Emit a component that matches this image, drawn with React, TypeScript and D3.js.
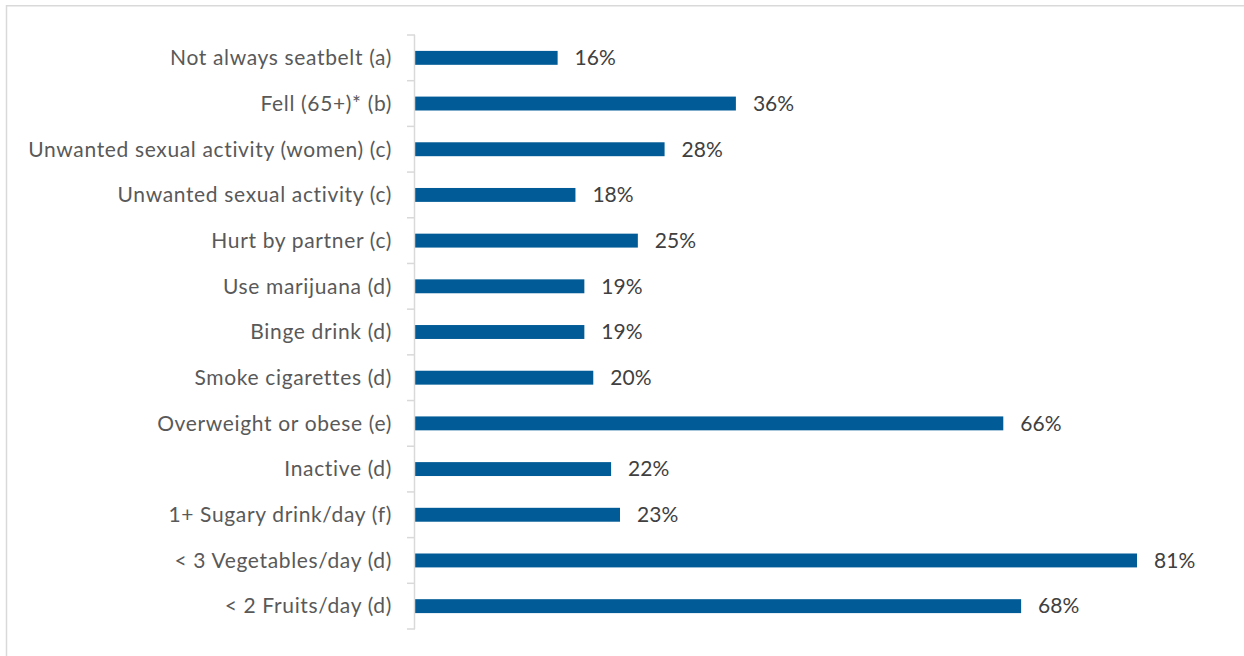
import React from "react";
import * as d3 from "d3";

const categories = [
  "Not always seatbelt (a)",
  "Fell (65+)* (b)",
  "Unwanted sexual activity (women) (c)",
  "Unwanted sexual activity (c)",
  "Hurt by partner (c)",
  "Use marijuana (d)",
  "Binge drink (d)",
  "Smoke cigarettes (d)",
  "Overweight or obese (e)",
  "Inactive (d)",
  "1+ Sugary drink/day (f)",
  "< 3 Vegetables/day (d)",
  "< 2 Fruits/day (d)",
];
const values = [16, 36, 28, 18, 25, 19, 19, 20, 66, 22, 23, 81, 68];

const W = 1244;
const H = 656;
const left = 415;
const top = 35;
const bottom = 629;
const FONT = "Lato, sans-serif";

export default function App() {
  const x = d3.scaleLinear().domain([0, 81]).range([left, 1137]);
  const y = d3.scaleBand().domain(categories).range([top, bottom]).paddingInner(0.6955).paddingOuter(0.348);
  const ticks = d3.range(categories.length + 1).map((i) => top + (i * (bottom - top)) / categories.length);
  return (
    <svg width={W} height={H} style={{ position: "absolute", left: 0, top: 0 }}>
      <rect x={0} y={0} width={W} height={H} fill="#fff" />
      <path d={`M6.5,${H + 2} V5.75 H${W + 2}`} fill="none" stroke="#d9d9d9" strokeWidth={1.5} />
      {categories.map((c, i) => (
        <g key={c}>
          <rect x={x(0)} y={y(c)!} width={x(values[i]) - x(0)} height={y.bandwidth()} fill="#005b96" />
          <text
            x={left - 23}
            y={y(c)! + y.bandwidth() / 2}
            dy="0.35em"
            textAnchor="end"
            fontFamily={FONT}
            fontSize={21}
            letterSpacing={0.65}
            fill="#595959"
          >
            {c}
          </text>
          <text
            x={x(values[i]) + 17}
            y={y(c)! + y.bandwidth() / 2}
            dy="0.35em"
            fontFamily={FONT}
            fontSize={21}
            fill="#404040"
          >
            {values[i]}%
          </text>
        </g>
      ))}
      <line x1={left - 0.5} x2={left - 0.5} y1={top} y2={bottom} stroke="#d9d9d9" strokeWidth={1.5} />
      {ticks.map((t, i) => (
        <line key={i} x1={left - 8} x2={left} y1={t} y2={t} stroke="#d9d9d9" strokeWidth={1.5} />
      ))}
    </svg>
  );
}
